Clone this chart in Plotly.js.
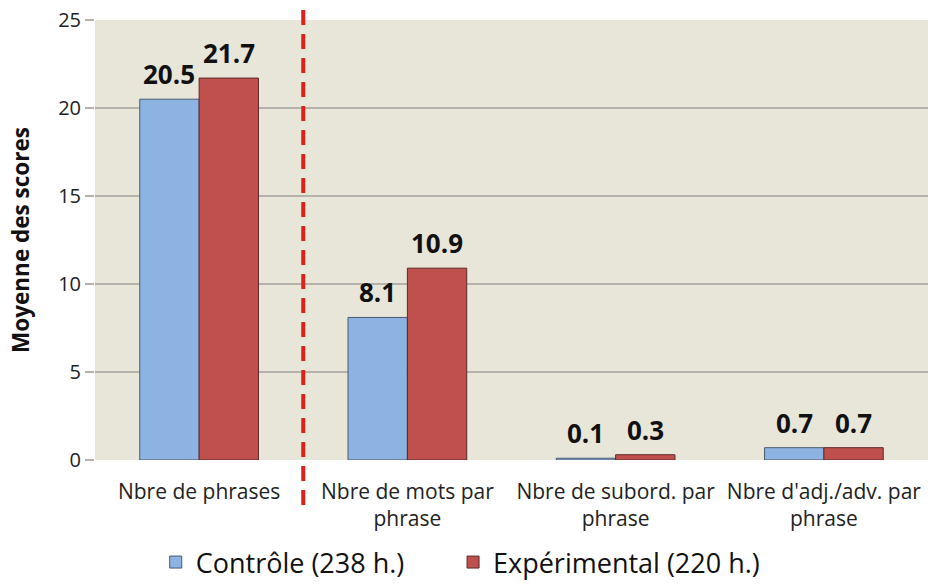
<!DOCTYPE html>
<html><head><meta charset="utf-8">
<script src="https://cdn.plot.ly/plotly-3.0.1.min.js"></script>
<style>html,body{margin:0;padding:0;background:#fff}#chart{width:938px;height:587px}</style>
</head><body><div id="chart"></div>
<script>
var categories = ["Nbre de phrases", "Nbre de mots par<br>phrase", "Nbre de subord. par<br>phrase", "Nbre d'adj./adv. par<br>phrase"];
var seriesNames = ["Contrôle (238 h.)", "Expérimental (220 h.)"];
var controle = [20.5, 8.1, 0.1, 0.7];
var experimental = [21.7, 10.9, 0.3, 0.7];
var yTicks = [0, 5, 10, 15, 20, 25];

var FONT = "'Open Sans', sans-serif";
var idx = categories.map(function(_, i){ return i; });
var BARGAP = 0.43;
var half = (1 - BARGAP) / 4; // centre offset of each bar in a group of two

var traces = [
  {type:'bar', name:seriesNames[0], x:idx, y:controle, legend:'legend',
   marker:{color:'#8db3e2', line:{color:'#4a5a70', width:1}}, hoverinfo:'skip'},
  {type:'bar', name:seriesNames[1], x:idx, y:experimental, legend:'legend2',
   marker:{color:'#c0504d', line:{color:'#5a2a28', width:1}}, hoverinfo:'skip'}
];

var labelFont = {family:FONT, size:26, color:'#111', weight:'bold'};
var annotations = [];
[controle, experimental].forEach(function(series, s){
  series.forEach(function(v, i){
    annotations.push({xref:'x', yref:'y', x:i + (s === 0 ? -half : half), y:v,
      text:v.toFixed(1), showarrow:false, yanchor:'bottom', yshift:5, font:labelFont});
  });
});

var legendBase = {orientation:'h', xref:'container', xanchor:'left', yref:'container', y:-0.012, yanchor:'bottom',
                  font:{family:FONT, size:27, color:'#111'}, itemwidth:30, bgcolor:'rgba(0,0,0,0)'};

var layout = {
  width:938, height:587,
  margin:{l:95, r:10, t:20, b:127},
  paper_bgcolor:'#ffffff', plot_bgcolor:'#e8e6d9',
  barmode:'group', bargap:BARGAP, bargroupgap:0,
  font:{family:FONT, color:'#222'},
  xaxis:{tickmode:'array', tickvals:idx, ticktext:categories, range:[-0.5, 3.5],
         showgrid:false, zeroline:false, showline:false, ticks:'', ticklabelstandoff:17,
         tickfont:{family:FONT, size:21, color:'#222'}},
  yaxis:{range:[0,25], tickvals:yTicks, showgrid:true, gridcolor:'#b4b2aa', gridwidth:1.5,
         zeroline:false, showline:false, ticks:'outside', ticklen:9, tickcolor:'#b4b2aa', tickwidth:1.5,
         tickfont:{family:FONT, size:20, color:'#222'},
         title:{text:'Moyenne des scores', font:{family:FONT, size:22.5, color:'#111', weight:'bold'}, standoff:22}},
  legend:Object.assign({}, legendBase, {x:0.166}),
  legend2:Object.assign({}, legendBase, {x:0.483}),
  annotations:annotations,
  shapes:[{type:'line', xref:'x', yref:'paper', x0:0.5, x1:0.5, y0:-0.102, y1:1.027,
           line:{color:'#e0201a', width:4, dash:'15px,9px'}}],
  showlegend:true
};

Plotly.newPlot('chart', traces, layout, {staticPlot:true, displayModeBar:false});
</script></body></html>
